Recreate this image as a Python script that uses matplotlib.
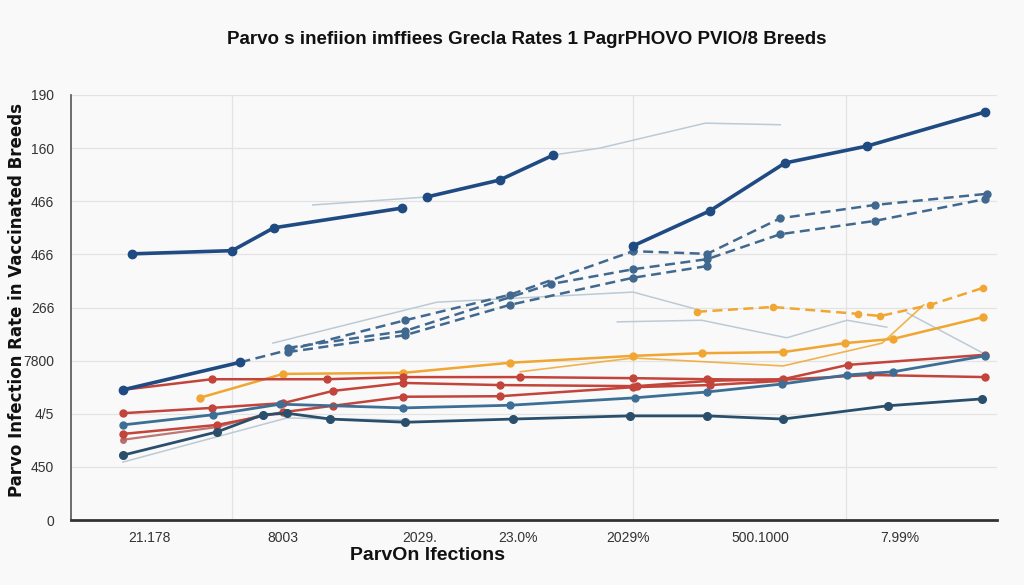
import matplotlib
matplotlib.use("Agg")
import matplotlib.pyplot as plt
import numpy as np

# ---------------- data ----------------
title = "Parvo s inefiion imffiees Grecla Rates 1 PagrPHOVO PVIO/8 Breeds"
y_label = "Parvo Infection Rate in Vaccinated Breeds"
x_label = "ParvOn lfections"

y_tick_pos = [0, 1, 2, 3, 4, 5, 6, 7, 8]
y_tick_labels = ["0", "450", "4/5", "7800", "266", "466", "466", "160", "190"]
x_tick_pos = [8.5, 22.9, 37.7, 48.3, 60.2, 74.4, 89.5]
x_tick_labels = ["21.178", "8003", "2029.", "23.0%", "2029%", "500.1000", "7.99%"]
x_grid_pos = [17.4, 60.7, 83.7]

# navy thick solid segments
navy1_x = [6.6, 17.4, 21.9, 35.7]
navy1_y = [5.01, 5.07, 5.50, 5.87]
navy2_x = [38.4, 46.3, 52.1]
navy2_y = [6.08, 6.40, 6.87]
navy3_x = [60.7, 69.0, 77.1, 86.0, 98.7]
navy3_y = [5.16, 5.82, 6.72, 7.04, 7.68]
navy4_x = [5.6, 18.3]
navy4_y = [2.45, 2.97]

# dashed blue
dash1_x = [18.3, 36.1, 47.4, 60.7, 68.7, 76.6, 86.8, 98.9]
dash1_y = [2.97, 3.76, 4.24, 5.06, 5.01, 5.68, 5.93, 6.14]
dash2_x = [23.4, 36.1, 51.8, 60.7, 68.7, 76.6, 86.8, 98.7]
dash2_y = [3.24, 3.56, 4.44, 4.72, 4.91, 5.38, 5.63, 6.04]
dash3_x = [23.4, 36.1, 47.4, 60.7, 68.7]
dash3_y = [3.16, 3.48, 4.05, 4.56, 4.78]

# orange
orange1_x = [67.6, 75.8, 85.0, 87.4, 92.8, 98.5]
orange1_y = [3.92, 4.01, 3.88, 3.84, 4.05, 4.37]
orange2_x = [13.9, 22.9, 35.9, 47.4, 60.7, 68.1, 76.9, 83.6, 88.8, 98.5]
orange2_y = [2.30, 2.75, 2.77, 2.96, 3.09, 3.14, 3.16, 3.33, 3.41, 3.82]
orange3_x = [48.5, 60.7, 76.9, 87.6, 92.1]
orange3_y = [2.79, 3.05, 2.90, 3.33, 4.05]

# red
red1_x = [5.6, 15.2, 27.6, 35.9, 48.5, 60.7, 68.7, 76.8, 86.3, 98.7]
red1_y = [2.45, 2.65, 2.65, 2.69, 2.69, 2.67, 2.65, 2.64, 2.73, 2.69]
red2_x = [5.6, 15.2, 22.9, 28.3, 35.9, 46.3, 61.1, 69.0, 76.9, 83.9, 98.7]
red2_y = [2.01, 2.11, 2.20, 2.43, 2.58, 2.54, 2.52, 2.62, 2.65, 2.92, 3.11]
red3_x = [5.6, 15.8, 22.9, 28.3, 35.9, 46.3, 60.7, 69.0, 76.9]
red3_y = [1.62, 1.79, 2.03, 2.15, 2.32, 2.33, 2.50, 2.54, 2.62]
red4_x = [5.6, 15.8, 20.7]
red4_y = [1.51, 1.75, 1.98]

# blue
blue1_x = [5.6, 15.3, 22.6, 35.9, 47.4, 60.9, 68.7, 76.8, 83.8, 88.8, 98.7]
blue1_y = [1.79, 1.98, 2.18, 2.11, 2.16, 2.30, 2.41, 2.56, 2.73, 2.79, 3.09]
blue2_x = [5.6, 15.8, 20.7, 23.3, 28.0, 36.1, 47.7, 60.4, 68.7, 76.9, 88.2, 98.4]
blue2_y = [1.22, 1.66, 1.98, 2.01, 1.90, 1.84, 1.90, 1.96, 1.96, 1.90, 2.15, 2.28]

# faint grey
grey1_x = [52.1, 57.1, 68.5, 76.6]
grey1_y = [6.87, 7.00, 7.47, 7.44]
grey2_x = [26.1, 38.4]
grey2_y = [5.93, 6.08]
grey3_x = [5.6, 23.3, 36.1]
grey3_y = [1.09, 1.92, 1.88]
grey4_x = [21.8, 39.5, 48.5, 60.7, 67.9]
grey4_y = [3.33, 4.10, 4.18, 4.29, 3.95]
grey5_x = [59.0, 68.1, 77.3, 83.8, 88.1]
grey5_y = [3.73, 3.76, 3.43, 3.76, 3.63]
grey6_x = [90.3, 98.5]
grey6_y = [3.90, 3.14]

# ---------------- style ----------------
NAVY = "#1f4b82"
DASH = "#41698f"
BLUE = "#3d6f96"
DARK = "#2a4f6c"
RED = "#c2443b"
ORANGE = "#f0a630"
GREY = "#bccad6"
BG = "#f9f9f9"

fig = plt.figure(figsize=(10.24, 5.85), dpi=100, facecolor=BG)
ax = fig.add_axes([71/1024, 1-520/585, 926/1024, 425/585])
ax.set_facecolor(BG)

def draw(x, y, color, lw, ms, ls="-", marker="o", alpha=1.0, z=3):
    ax.plot(x, y, color=color, lw=lw, ls=ls, marker=marker, ms=ms,
            alpha=alpha, zorder=z, solid_capstyle="round",
            dash_capstyle="butt")

# faint grey
for gx, gy in [(grey1_x, grey1_y), (grey2_x, grey2_y), (grey3_x, grey3_y),
               (grey4_x, grey4_y), (grey5_x, grey5_y), (grey6_x, grey6_y)]:
    ax.plot(gx, gy, color=GREY, lw=1.1, zorder=2)

# dashed blue
for dx, dy in [(dash1_x, dash1_y), (dash2_x, dash2_y), (dash3_x, dash3_y)]:
    ax.plot(dx, dy, color=DASH, lw=1.8, ls=(0, (4, 2.2)), marker="o", ms=5,
            zorder=3)

# orange
ax.plot(orange1_x, orange1_y, color=ORANGE, lw=1.8, ls=(0, (4, 2.2)),
        marker="o", ms=4.5, zorder=3)
draw(orange3_x, orange3_y, ORANGE, 1.2, 0, marker=None, alpha=0.85)
draw(orange2_x, orange2_y, ORANGE, 1.8, 5)

# red
draw(red4_x, red4_y, "#b3615e", 1.6, 4, alpha=0.85)
draw(red3_x, red3_y, RED, 1.8, 5)
draw(red2_x, red2_y, RED, 1.8, 5)
draw(red1_x, red1_y, RED, 1.8, 5)

# blue
draw(blue1_x, blue1_y, BLUE, 2.0, 5)
draw(blue2_x, blue2_y, DARK, 2.0, 5.5)

# navy
for nx, ny in [(navy1_x, navy1_y), (navy2_x, navy2_y),
               (navy3_x, navy3_y), (navy4_x, navy4_y)]:
    draw(nx, ny, NAVY, 2.6, 6, z=5)

# axes
ax.set_xlim(0, 100)
ax.set_ylim(0, 8)
ax.set_yticks(y_tick_pos)
ax.set_yticklabels(y_tick_labels, family="Liberation Sans", fontsize=10)
ax.set_xticks(x_tick_pos)
ax.set_xticklabels(x_tick_labels, family="Liberation Sans", fontsize=10)
ax.set_xticks(x_grid_pos, minor=True)
ax.tick_params(axis="both", which="both", length=0, colors="#333333")
ax.tick_params(axis="y", pad=12)
ax.tick_params(axis="x", pad=8)
ax.grid(axis="y", color="#e3e3e3", lw=0.9, zorder=0)
ax.grid(axis="x", which="minor", color="#e3e3e3", lw=0.9, zorder=0)
ax.set_axisbelow(True)
for s in ["top", "right"]:
    ax.spines[s].set_visible(False)
ax.spines["left"].set_color("#555555")
ax.spines["left"].set_linewidth(1.2)
ax.spines["bottom"].set_color("#333333")
ax.spines["bottom"].set_linewidth(2.0)

fig.text(527/1024, 1-40/585, title, ha="center", va="center",
         fontsize=13.5, fontweight="bold", color="#111111",
         family="Liberation Sans")
fig.text(17/1024, 1-300/585, y_label, rotation=90, ha="center", va="center",
         fontsize=12, fontweight="bold", color="#111111")
fig.text(427/1024, 1-555/585, x_label, ha="center", va="center",
         fontsize=14, fontweight="bold", color="#111111",
         family="Liberation Sans")

fig.savefig("out.png", dpi=100, facecolor=BG)
